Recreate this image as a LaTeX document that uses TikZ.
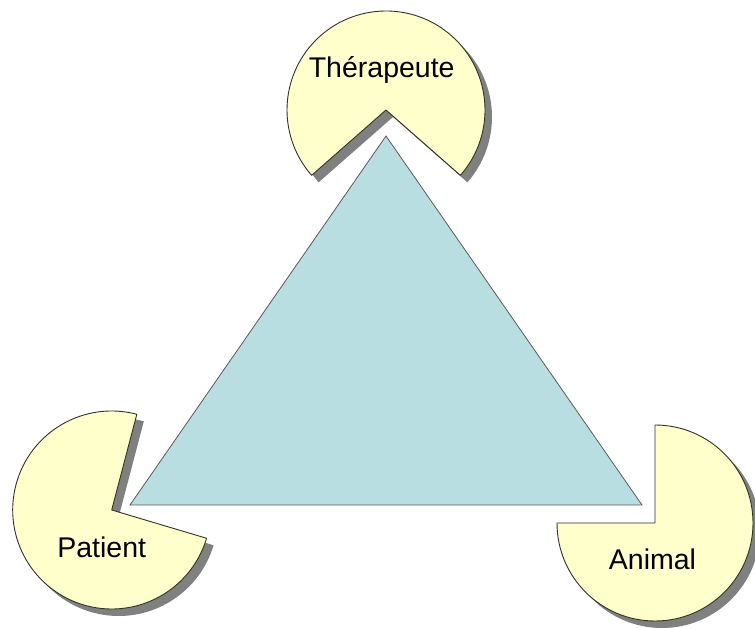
\documentclass[tikz,border=0pt]{standalone}
\usepackage{fontspec}
\setmainfont{Liberation Sans}
\definecolor{pieyellow}{RGB}{255,255,204}
\definecolor{tricyan}{RGB}{185,222,226}
\definecolor{shadowgray}{RGB}{128,128,128}
\definecolor{edgedark}{RGB}{50,50,40}
\tikzset{
  piefill/.style={fill=pieyellow, draw=edgedark, line width=0.9pt, line join=round},
  pieshadow/.style={fill=shadowgray, transform canvas={xshift=7pt, yshift=-7pt}},
  tri/.style={fill=tricyan, draw=edgedark!80, line width=0.8pt, line join=miter},
  lbl/.style={font=\fontsize{28.5}{33}\selectfont, text=black, inner sep=0pt, anchor=base}
}
\begin{document}
\begin{tikzpicture}[x=1pt,y=1pt]
\useasboundingbox (0,0) rectangle (755,628);
% centres of the three pies
\coordinate (cT) at (386,518);
\coordinate (cP) at (111.7,118);
\coordinate (cA) at (655,105);
% shadows
\fill[pieshadow] (cT) -- ++(318.7:99) arc[start angle=318.7, end angle=581.3, radius=99] -- cycle;
\fill[pieshadow] (cP) -- ++(75.3:99) arc[start angle=75.3, end angle=343.4, radius=99] -- cycle;
\fill[pieshadow] (cA) -- ++(180:98) arc[start angle=180, end angle=450, radius=98] -- cycle;
% pies
\path[piefill] (cT) -- ++(318.7:99) arc[start angle=318.7, end angle=581.3, radius=99] -- cycle;
\path[piefill] (cP) -- ++(75.3:99) arc[start angle=75.3, end angle=343.4, radius=99] -- cycle;
\path[piefill] (cA) -- ++(180:98) arc[start angle=180, end angle=450, radius=98] -- cycle;
% triangle
\coordinate (vT) at (386,492);
\coordinate (vP) at (130,123);
\coordinate (vA) at (642,123);
\path[tri] (vT) -- (vP) -- (vA) -- cycle;
% labels
\node[lbl] (therapeute) at (381.7,550.7) {Thérapeute};
\node[lbl] (patient) at (101.7,70) {Patient};
\node[lbl] (animal) at (652.5,58) {Animal};
\end{tikzpicture}
\end{document}
